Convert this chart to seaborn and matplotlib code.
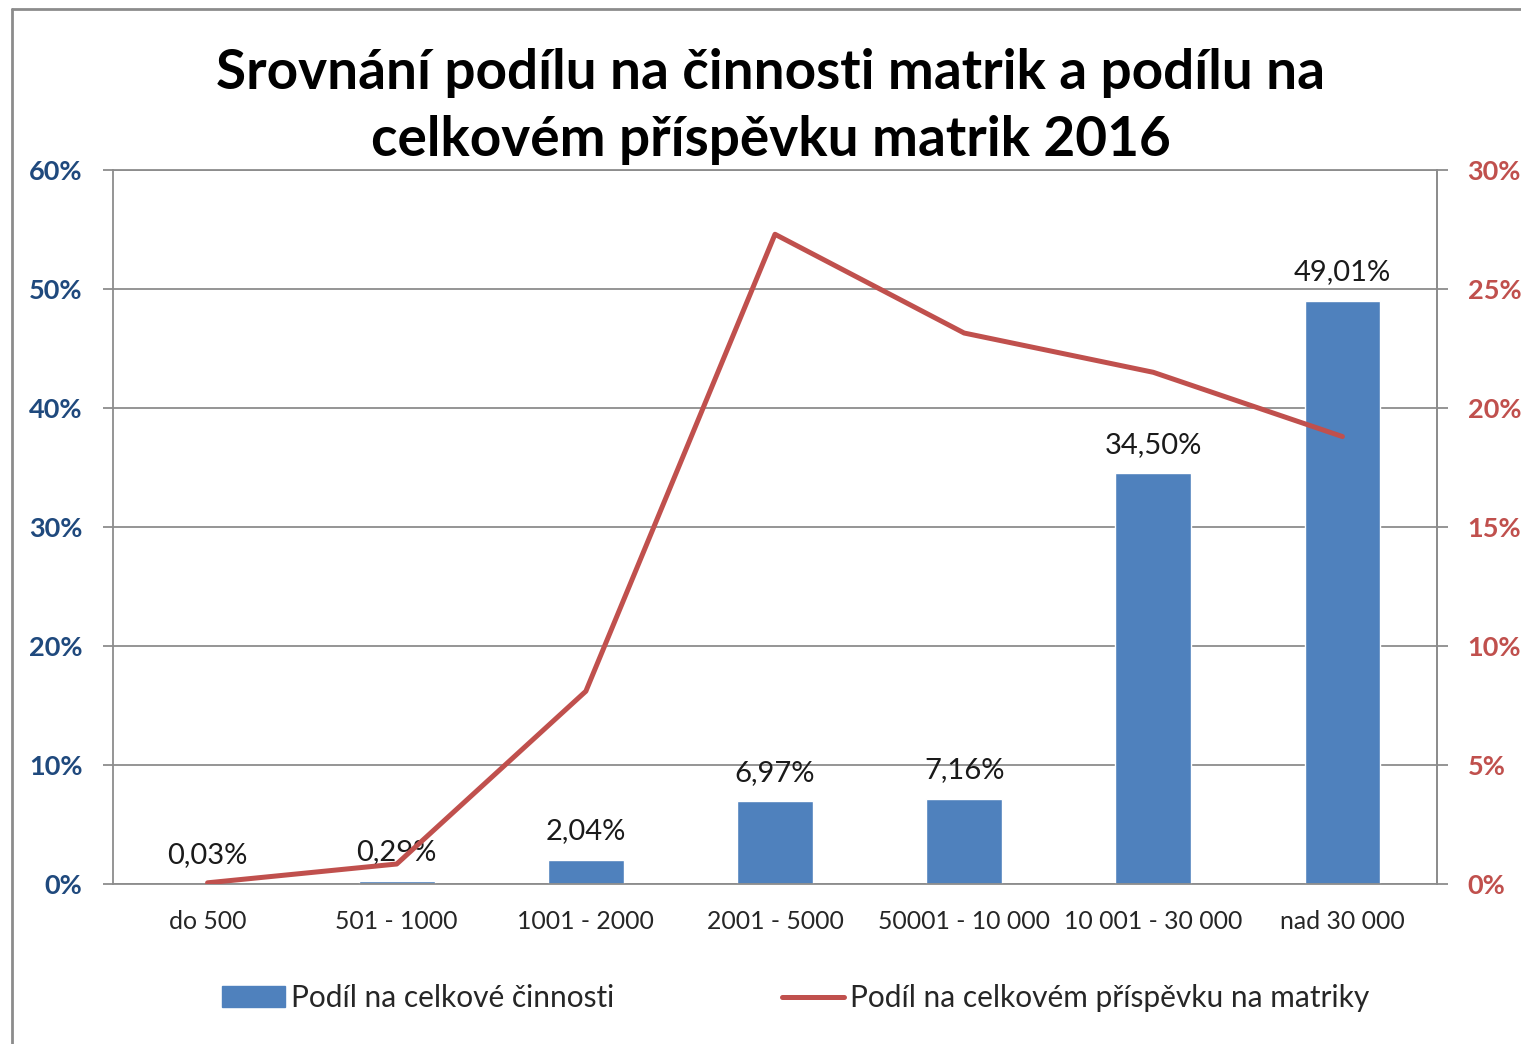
import matplotlib
matplotlib.use("Agg")
import matplotlib.pyplot as plt
import seaborn as sns
import numpy as np
import pandas as pd
from matplotlib.lines import Line2D
from matplotlib.patches import Patch

categories = ["do 500", "501 - 1000", "1001 - 2000", "2001 - 5000",
              "50001 - 10 000", "10 001 - 30 000", "nad 30 000"]
podil_cinnosti = [0.03, 0.29, 2.04, 6.97, 7.16, 34.50, 49.01]
podil_prispevku = [0.05, 0.84, 8.1, 27.3, 23.15, 21.5, 18.8]
left_ticks = [0, 10, 20, 30, 40, 50, 60]
right_ticks = [0, 5, 10, 15, 20, 25, 30]

BLUE = "#4F81BD"
RED = "#C0504D"
GRID = "#8C8C8C"

sns.set_style("white")
plt.rcParams['font.family'] = ['Lato', 'DejaVu Sans']

df = pd.DataFrame({"kat": categories, "cinnost": podil_cinnosti,
                   "prispevek": podil_prispevku})
df["pos"] = np.arange(len(df))

fig = plt.figure(figsize=(15.21, 10.44), dpi=100)
ax = fig.add_axes([113 / 1521, 1 - 884 / 1044, 1324 / 1521, 714 / 1044])

sns.barplot(data=df, x="kat", y="cinnost", color=BLUE, width=0.4,
            saturation=1, ax=ax, order=categories)
ax.set_xlim(-0.5, len(categories) - 0.5)
ax.set_ylim(0, 60)
ax.set_yticks(left_ticks)
ax.set_yticklabels([f"{t}%" for t in left_ticks])
ax.set_xlabel("")
ax.set_ylabel("")
ax.grid(axis="y", color=GRID, linewidth=1.3)
ax.set_axisbelow(True)
for s in ax.spines.values():
    s.set_color(GRID)
    s.set_linewidth(1.3)
ax.tick_params(axis="y", length=7, color=GRID, width=1.3, labelsize=19.5,
               labelcolor="#1F497D", pad=15)
for lab in ax.get_yticklabels():
    lab.set_fontweight("bold")
ax.tick_params(axis="x", which="major", length=0, labelsize=17.8,
               labelcolor="#262626", pad=19)
ax.set_xticks(np.arange(-0.5, len(categories), 1), minor=True)
ax.tick_params(axis="x", which="minor", length=7, color=GRID, width=1.3)

# popisky hodnot nad sloupci
for i, v in enumerate(podil_cinnosti):
    ax.text(i, v + 1.3, f"{v:.2f}".replace(".", ",") + "%", ha="center",
            va="bottom", fontsize=21, color="#1a1a1a")

ax2 = ax.twinx()
sns.lineplot(data=df, x="pos", y="prispevek", color=RED, linewidth=3.6,
             sort=False, ax=ax2)
ax2.set_ylim(0, 30)
ax2.set_yticks(right_ticks)
ax2.set_yticklabels([f"{t}%" for t in right_ticks])
ax2.set_ylabel("")
ax2.set_xlabel("")
ax2.set_xlim(-0.5, len(categories) - 0.5)
for s in ax2.spines.values():
    s.set_visible(False)
ax2.spines["right"].set_visible(True)
ax2.spines["right"].set_color(GRID)
ax2.spines["right"].set_linewidth(1.3)
ax2.tick_params(axis="y", length=8, color=GRID, width=1.3, labelsize=19.5,
                labelcolor=RED, pad=14)
for lab in ax2.get_yticklabels():
    lab.set_fontweight("bold")

fig.suptitle("Srovnání podílu na činnosti matrik a podílu na\ncelkovém příspěvku matrik 2016",
             x=771 / 1521, y=1 - 48 / 1044, fontsize=39.5, fontweight="bold",
             va="top", linespacing=1.42, color="black")

handles = [Patch(color=BLUE), Line2D([0], [0], color=RED, linewidth=3.6)]
labels = ["Podíl na celkové činnosti", "Podíl na celkovém příspěvku na matriky"]
fig.legend(handles, labels, loc="center", bbox_to_anchor=(796 / 1521, 1 - 998 / 1044),
           ncol=2, frameon=False, fontsize=21.5, handlelength=2.1, handletextpad=0.2,
           columnspacing=5.6)

# okraj grafu
fig.add_artist(Line2D([12 / 1521, 12 / 1521], [0, 1 - 9 / 1044], color="#8C8C8C",
                      linewidth=2, transform=fig.transFigure))
fig.add_artist(Line2D([12 / 1521, 1], [1 - 9 / 1044, 1 - 9 / 1044], color="#8C8C8C",
                      linewidth=2, transform=fig.transFigure))

fig.savefig("out.png", dpi=100)
